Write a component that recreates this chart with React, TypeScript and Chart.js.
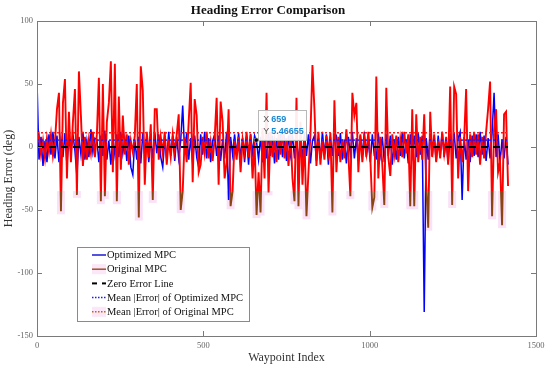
import React, { useEffect, useRef } from "react";
import { Chart, registerables } from "chart.js";

Chart.register(...registerables);

const WAYPOINT_STEP = 6;

const optimizedMPC = [
  52, -10, 8, -15, 5, -12, 10, -6, 12, -9,
  9, -12, 6, -8, 11, -14, 7, -5, 10, -3,
  -23, 8, -6, 12, -10, 5, -8, 14, -4, 7,
  6, -12, 9, -7, 13, -10, 5, -14, 8, -6,
  10, -8, 12, -5, 7, -11, 9, -16, -22, 6,
  -10, 8, -13, 11, -6, 9, -12, 7, -9, 12,
  -5, 10, -8, -16, 6, -10, 12, -7, 9, -11,
  8, -9, 5, 33, -6, 11, -10, 7, -13, 9,
  -8, -16, 10, -6, 12, -9, 7, -12, 5, 10,
  -7, 9, -11, 6, -9, 12, -42, 8, -6, 10,
  -6, 11, -9, 7, -12, 8, -14, 10, -5, 9,
  4, -10, 8, -12, 6, -9, 11, -7, 9, -13,
  7, -10, 12, -8, 6, -11, 9, -6, 10, -9,
  8, -12, 6, -9, 11, -7, 10, -13, 5, 9,
  -11, 7, -9, 12, -6, 10, -14, 8, -7, 11,
  9, -7, 11, -10, 6, -13, 8, -6, 12, -9,
  7, -11, 9, -6, 12, -8, 5, -12, 10, -7,
  -9, 11, -6, 8, -12, 10, -7, 9, -14, 6,
  -10, 8, -7, 12, -9, 6, -13, 10, -6, 9,
  -8, 11, -6, 9, -131, 7, -10, 12, -7, 8,
  -11, 9, -7, 12, -8, 6, -13, 10, -6, 11,
  -9, 7, 12, -42, 8, -10, 6, -12, 9, -7,
  10, -8, 12, -6, 9, -11, 7, -9, 11, 43,
  -8, 10, -12, 6, -9, 8, -14,
];

const originalMPC = [
  3, 9, -6, 5, -9, 7, -4, 10, -7, 4,
  30, 43, -51, 35, 54, -25, 28, -12, 20, 46,
  -38, 60, 25, -15, 8, -10, 6, -5, 12, -8,
  10, 55, -43, 50, -39, 20, 35, 68, -20, 66,
  -43, 40, -18, 25, -6, 10, -14, 5, -4, 9,
  50, -56, 64, 45, -30, 12, -8, 18, -42, 30,
  30, -10, 8, -5, 12, -14, 6, -8, 10, -4,
  10, 26, -50, -35, 8, -12, 20, 51, -28, 38,
  25, -20, -14, 8, -5, 12, -9, 4, -11, 7,
  39, -30, 36, 20, -25, -12, 30, -47, -35, 6,
  -10, 8, -20, 6, -5, 12, -8, 10, -25, 5,
  -54, -20, -52, 15, -25, 43, -36, 12, -8, 5,
  -12, 10, -6, 14, -9, 7, -15, 11, -25, -43,
  39, -47, 20, -30, 8, -55, -20, 10, 65, 30,
  -15, 12, -14, 6, -10, 9, -5, 11, -52, 37,
  -20, 8, -12, 6, -9, 14, -6, -39, 43, 25,
  35, -20, 10, -12, 7, -5, 12, -9, -48, -40,
  56, -25, 8, -14, -46, 47, -8, -23, 10, -6,
  9, -12, 6, -8, 12, -5, 10, -47, 30, -47,
  26, -12, 8, -10, 26, -30, -64, 28, -8, 10,
  -12, 6, -9, 12, -5, 8, -14, 48, -46, 48,
  42, -25, 8, -12, 6, 46, -35, 10, -8, 12,
  -6, 10, -14, 8, -9, 12, 30, 52, -55, 14,
  30, -20, -12, -62, 26, 28, -31,
];

const meanOptimized = 5.46655;
const meanOriginal = 11.3;
const zeroLevel = 0;
const brownBelow = -35;

const xTickValues = [0, 500, 1000, 1500];
const yTickValues = [-150, -100, -50, 0, 50, 100];

const tipIndex = 659;
const tipValue = 5.46655;

const legendLabels = [
  "Optimized MPC",
  "Original MPC",
  "Zero Error Line",
  "Mean |Error| of Optimized MPC",
  "Mean |Error| of Original MPC",
];

// ---- styles ----
const BLUE = "#0000ff";
const RED = "#ff0000";
const BROWN = "#8b4513";
const SERIF = "'Liberation Serif', 'Times New Roman', serif";

export default function App() {
  const ref = useRef<HTMLCanvasElement | null>(null);

  useEffect(() => {
    document.body.style.margin = "0";
    const canvas = ref.current;
    if (!canvas) return;

    const toPts = (arr: number[]) => arr.map((v, i) => ({ x: i * WAYPOINT_STEP, y: v }));
    const lastX = (originalMPC.length - 1) * WAYPOINT_STEP;
    const flat = (v: number) => [{ x: 0, y: v }, { x: lastX, y: v }];

    const redColor = (ctx: any) => {
      const chart = ctx.chart;
      const area = chart.chartArea;
      if (!area || !chart.scales || !chart.scales.y) return RED;
      const yT = chart.scales.y.getPixelForValue(brownBelow);
      const f = Math.max(0, Math.min(1, (yT - area.top) / (area.bottom - area.top)));
      const g = chart.ctx.createLinearGradient(0, area.top, 0, area.bottom);
      g.addColorStop(0, RED);
      g.addColorStop(f, RED);
      g.addColorStop(Math.min(1, f + 0.0005), BROWN);
      g.addColorStop(1, BROWN);
      return g;
    };

    const pinkPlugin = {
      id: "pinkPatches",
      beforeDatasetsDraw(chart: any) {
        const { ctx, scales } = chart;
        const x = scales.x, y = scales.y;
        const yT = y.getPixelForValue(brownBelow);
        ctx.save();
        ctx.fillStyle = "rgba(250,222,246,0.9)";
        originalMPC.forEach((v, i) => {
          if (v < brownBelow) {
            const px = x.getPixelForValue(i * WAYPOINT_STEP);
            const py = y.getPixelForValue(v);
            ctx.fillRect(px - 4, yT, 8, py - yT + 3);
          }
        });
        ctx.restore();
      },
    };

    const framePlugin = {
      id: "frameAndExtras",
      afterDraw(chart: any) {
        const { ctx, chartArea: a, scales } = chart;
        const x = scales.x, y = scales.y;
        ctx.save();
        // box
        ctx.strokeStyle = "#7a7a7a";
        ctx.lineWidth = 1;
        ctx.strokeRect(Math.round(a.left) + 0.5, Math.round(a.top) + 0.5,
          Math.round(a.right - a.left), Math.round(a.bottom - a.top));
        // inward ticks
        ctx.beginPath();
        xTickValues.forEach((v) => {
          const px = Math.round(x.getPixelForValue(v)) + 0.5;
          ctx.moveTo(px, a.bottom); ctx.lineTo(px, a.bottom - 5);
          ctx.moveTo(px, a.top); ctx.lineTo(px, a.top + 5);
        });
        yTickValues.forEach((v) => {
          const py = Math.round(y.getPixelForValue(v)) + 0.5;
          ctx.moveTo(a.left, py); ctx.lineTo(a.left + 5, py);
          ctx.moveTo(a.right, py); ctx.lineTo(a.right - 5, py);
        });
        ctx.stroke();

        // legend
        const lx = a.left + 40, ly = a.top + 226, lw = 172, lh = 74;
        ctx.fillStyle = "#ffffff";
        ctx.fillRect(lx, ly, lw, lh);
        ctx.strokeStyle = "#8a8a8a";
        ctx.strokeRect(lx + 0.5, ly + 0.5, lw, lh);
        const styles = [
          { c: "#1a1ad0", dash: [] as number[], w: 1.5, pink: false },
          { c: "#a0522d", dash: [] as number[], w: 1.5, pink: true },
          { c: "#000000", dash: [5, 5], w: 2, pink: false },
          { c: "#1a1aff", dash: [1.5, 1.5], w: 1.5, pink: false },
          { c: "#c0651d", dash: [1.5, 1.5], w: 1.5, pink: true },
        ];
        ctx.font = `10.5px ${SERIF}`;
        ctx.textBaseline = "middle";
        ctx.textAlign = "left";
        legendLabels.forEach((t, i) => {
          const cy = ly + 8 + i * 14.2;
          const s = styles[i];
          if (s.pink) {
            ctx.fillStyle = "rgba(250,225,246,0.8)";
            ctx.fillRect(lx + 15, cy - 5, 14, 10);
          }
          ctx.beginPath();
          ctx.setLineDash(s.dash);
          ctx.strokeStyle = s.c;
          ctx.lineWidth = s.w;
          ctx.moveTo(lx + 15, cy);
          ctx.lineTo(lx + 29, cy);
          ctx.stroke();
          ctx.setLineDash([]);
          ctx.fillStyle = "#111";
          ctx.fillText(t, lx + 30, cy + 0.5);
        });

        // data tip
        const mx = x.getPixelForValue(tipIndex);
        const my = y.getPixelForValue(tipValue);
        const bx = mx + 2, by = my - 30, bw = 48, bh = 30;
        ctx.fillStyle = "rgba(255,255,255,0.92)";
        ctx.fillRect(bx, by, bw, bh);
        ctx.strokeStyle = "#b8b8b8";
        ctx.lineWidth = 1;
        ctx.strokeRect(Math.round(bx) + 0.5, Math.round(by) + 0.5, bw, bh);
        ctx.font = "9px 'Liberation Sans', Arial, sans-serif";
        ctx.fillStyle = "#555";
        ctx.fillText("X", bx + 5, by + 9);
        ctx.fillText("Y", bx + 5, by + 21);
        ctx.font = "bold 9px 'Liberation Sans', Arial, sans-serif";
        ctx.fillStyle = "#1a8ad6";
        ctx.fillText(String(tipIndex), bx + 13, by + 9);
        ctx.fillText(String(tipValue), bx + 13, by + 21);
        ctx.beginPath();
        ctx.arc(mx, my, 2.2, 0, Math.PI * 2);
        ctx.fillStyle = "#000";
        ctx.fill();
        ctx.strokeStyle = "#999";
        ctx.lineWidth = 0.8;
        ctx.stroke();
        ctx.restore();
      },
    };

    const chart = new Chart(canvas, {
      type: "line",
      data: {
        datasets: [
          { label: "Zero Error Line", data: flat(zeroLevel), borderColor: "#000", borderWidth: 2, borderDash: [7, 5], pointRadius: 0, order: 0 },
          { label: "Mean |Error| of Optimized MPC", data: flat(meanOptimized), borderColor: "#1a1aff", borderWidth: 1.5, borderDash: [2, 2], pointRadius: 0, order: 1 },
          { label: "Mean |Error| of Original MPC", data: flat(meanOriginal), borderColor: "#ff1a1a", borderWidth: 1.5, borderDash: [2, 2], pointRadius: 0, order: 2 },
          { label: "Original MPC", data: toPts(originalMPC), borderColor: redColor, borderWidth: 1.9, pointRadius: 0, tension: 0, order: 3 },
          { label: "Optimized MPC", data: toPts(optimizedMPC), borderColor: BLUE, borderWidth: 1.5, pointRadius: 0, tension: 0, order: 4 },
        ],
      },
      options: {
        animation: false,
        responsive: false,
        devicePixelRatio: 1,
        layout: { padding: { left: 0, right: 14, top: 0, bottom: 0 } },
        plugins: {
          legend: { display: false },
          tooltip: { enabled: false },
          title: {
            display: true,
            text: "Heading Error Comparison",
            color: "#111",
            font: { family: SERIF, size: 13, weight: "bold" },
            padding: { top: 3, bottom: 2.4 },
          },
        },
        scales: {
          x: {
            type: "linear",
            min: 0,
            max: 1500,
            afterBuildTicks: (s: any) => { s.ticks = xTickValues.map((v) => ({ value: v })); },
            afterFit: (s: any) => { s.height = 33; },
            grid: { display: false, drawTicks: false },
            border: { display: false },
            ticks: { padding: 5, color: "#666", font: { family: SERIF, size: 8.5 }, maxRotation: 0, autoSkip: false, callback: (v: any) => String(v) },
            title: { display: true, text: "Waypoint Index", color: "#333", font: { family: SERIF, size: 12 }, padding: { top: 0, bottom: 4 } },
          },
          y: {
            type: "linear",
            min: -150,
            max: 100,
            afterBuildTicks: (s: any) => { s.ticks = yTickValues.map((v) => ({ value: v })); },
            afterFit: (s: any) => { s.width = 37; },
            grid: { display: false, drawTicks: false },
            border: { display: false },
            ticks: { padding: 4, color: "#666", font: { family: SERIF, size: 8.5 }, autoSkip: false, callback: (v: any) => String(v) },
            title: { display: true, text: "Heading Error (deg)", color: "#333", font: { family: SERIF, size: 12 }, padding: { top: 2, bottom: 0 } },
          },
        },
      },
      plugins: [pinkPlugin, framePlugin],
    } as any);

    return () => chart.destroy();
  }, []);

  return (
    <div style={{ width: 550, height: 369 }}>
      <canvas ref={ref} width={550} height={369} style={{ display: "block" }} />
    </div>
  );
}
